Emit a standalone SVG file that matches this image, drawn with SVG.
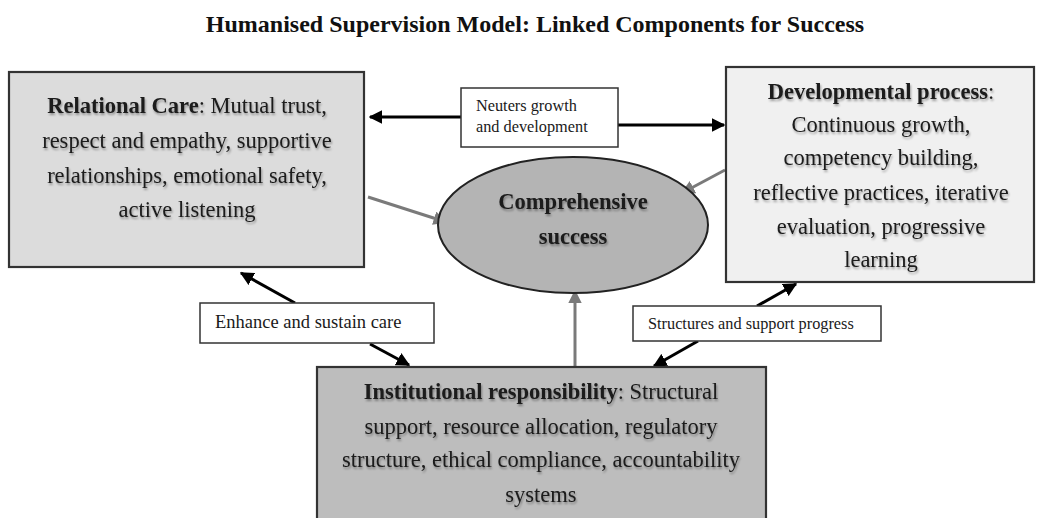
<svg xmlns="http://www.w3.org/2000/svg" width="1039" height="518" viewBox="0 0 1039 518">
  <style>
    .title { font-family: "Liberation Serif", "Times New Roman", serif; font-size: 24px; font-weight: bold; fill: #111; }
    .body { font-family: "Liberation Serif", "Times New Roman", serif; font-size: 22.5px; fill: #1a1a1a; }
    .small { font-family: "Liberation Serif", "Times New Roman", serif; font-size: 16.3px; fill: #1a1a1a; }
    .box { stroke: #333; stroke-width: 2.2; }
    .lbl { fill: #fff; stroke: #333; stroke-width: 1.5; }
    .blk { stroke: #000; stroke-width: 3; fill: none; }
    .gry { stroke: #7a7a7a; stroke-width: 3; fill: none; }
  </style>
  <defs>
    <marker id="ahBlack" viewBox="0 0 10 10" refX="9" refY="5" markerWidth="4.6" markerHeight="4.6" orient="auto" markerUnits="strokeWidth">
      <path d="M0,0 L10,5 L0,10 z" fill="#000"/>
    </marker>
    <marker id="ahGray" viewBox="0 0 10 10" refX="9" refY="5" markerWidth="4.6" markerHeight="4.6" orient="auto" markerUnits="strokeWidth">
      <path d="M0,0 L10,5 L0,10 z" fill="#7a7a7a"/>
    </marker>
    <filter id="soft" x="-5%" y="-20%" width="110%" height="140%">
      <feGaussianBlur in="SourceAlpha" stdDeviation="1.2"/>
      <feOffset dx="1" dy="1.5" result="s"/>
      <feComponentTransfer><feFuncA type="linear" slope="0.35"/></feComponentTransfer>
      <feMerge><feMergeNode/><feMergeNode in="SourceGraphic"/></feMerge>
    </filter>
  </defs>

  <rect width="1039" height="518" fill="#fff"/>

  <text class="title" x="535" y="32" text-anchor="middle">Humanised Supervision Model: Linked Components for Success</text>

  <!-- connectors -->
  <g id="connectors">
    <line class="blk" x1="461" y1="117" x2="370" y2="117" marker-end="url(#ahBlack)"/>
    <line class="blk" x1="618" y1="125" x2="724" y2="125" marker-end="url(#ahBlack)"/>
    <line class="blk" x1="295" y1="303" x2="241" y2="273" marker-end="url(#ahBlack)"/>
    <line class="blk" x1="370" y1="344" x2="409" y2="365" marker-end="url(#ahBlack)"/>
    <line class="blk" x1="757" y1="306" x2="796" y2="284" marker-end="url(#ahBlack)"/>
    <line class="blk" x1="698" y1="341" x2="654" y2="366" marker-end="url(#ahBlack)"/>
    <line class="gry" x1="368" y1="197" x2="446" y2="222" marker-end="url(#ahGray)"/>
    <line class="gry" x1="725" y1="170" x2="682" y2="193" marker-end="url(#ahGray)"/>
    <line class="gry" x1="575" y1="366" x2="575" y2="291" marker-end="url(#ahGray)"/>
  </g>

  <!-- Relational Care -->
  <g id="relational-care">
    <rect class="box" x="9" y="72" width="355" height="195" fill="#dcdcdc"/>
    <g class="body" text-anchor="middle" filter="url(#soft)">
      <text x="187" y="113"><tspan font-weight="bold">Relational Care</tspan>: Mutual trust,</text>
      <text x="187" y="148">respect and empathy, supportive</text>
      <text x="187" y="183">relationships, emotional safety,</text>
      <text x="187" y="217">active listening</text>
    </g>
  </g>

  <!-- Developmental process -->
  <g id="developmental-process">
    <rect class="box" x="726" y="67" width="308" height="215" fill="#f0f0f0"/>
    <g class="body" text-anchor="middle" filter="url(#soft)">
      <text x="881" y="99"><tspan font-weight="bold">Developmental process</tspan>:</text>
      <text x="881" y="132">Continuous growth,</text>
      <text x="881" y="165">competency building,</text>
      <text x="881" y="200">reflective practices, iterative</text>
      <text x="881" y="234">evaluation, progressive</text>
      <text x="881" y="267">learning</text>
    </g>
  </g>

  <!-- Comprehensive success -->
  <g id="comprehensive-success">
    <ellipse cx="573" cy="225" rx="135" ry="68" fill="#b4b4b4" stroke="#222" stroke-width="2"/>
    <g class="body" text-anchor="middle" font-weight="bold" filter="url(#soft)">
      <text x="573" y="209">Comprehensive</text>
      <text x="573" y="244">success</text>
    </g>
  </g>

  <!-- Institutional responsibility -->
  <g id="institutional-responsibility">
    <rect class="box" x="317" y="367" width="449" height="160" fill="#bdbdbd"/>
    <g class="body" text-anchor="middle" filter="url(#soft)">
      <text x="541" y="399"><tspan font-weight="bold">Institutional responsibility</tspan>: Structural</text>
      <text x="541" y="434">support, resource allocation, regulatory</text>
      <text x="541" y="467">structure, ethical compliance, accountability</text>
      <text x="541" y="502">systems</text>
    </g>
  </g>

  <!-- connector labels -->
  <g id="label-neuters">
    <rect class="lbl" x="461" y="88" width="157" height="59"/>
    <text class="small" x="476" y="111">Neuters growth</text>
    <text class="small" x="476" y="132">and development</text>
  </g>
  <g id="label-enhance">
    <rect class="lbl" x="200" y="303" width="234" height="40"/>
    <text class="small" x="215" y="328" style="font-size:18.5px">Enhance and sustain care</text>
  </g>
  <g id="label-structures">
    <rect class="lbl" x="633" y="306" width="248" height="35"/>
    <text class="small" x="648" y="329">Structures and support progress</text>
  </g>
</svg>
